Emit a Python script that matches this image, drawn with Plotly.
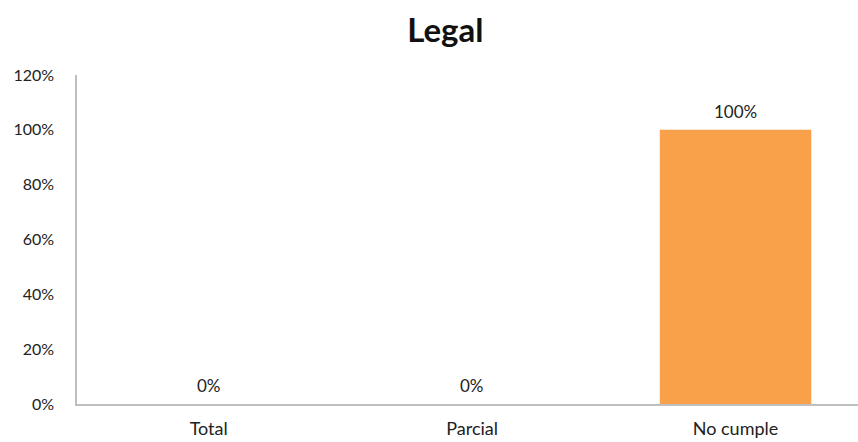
import plotly.graph_objects as go

categories = ["Total", "Parcial", "No cumple"]
values = [0, 0, 100]
y_ticks = [0, 20, 40, 60, 80, 100, 120]
y_tick_labels = ["0%", "20%", "40%", "60%", "80%", "100%", "120%"]

FONT = "Lato, Open Sans, sans-serif"
TEXT_COLOR = "#222222"

fig = go.Figure(
    go.Bar(
        x=categories,
        y=values,
        marker=dict(color="#F9A04A", line=dict(width=0)),
        width=0.575,
        hoverinfo="x+y",
    )
)

# value labels sitting just above each bar
for cat, val in zip(categories, values):
    fig.add_annotation(
        x=cat,
        y=val,
        text=f"{val}%",
        showarrow=False,
        xanchor="center",
        yanchor="bottom",
        yshift=6,
        font=dict(family=FONT, size=17, color=TEXT_COLOR),
    )

fig.update_layout(
    width=858,
    height=442,
    margin=dict(l=77, r=0, t=75, b=38),
    paper_bgcolor="white",
    plot_bgcolor="white",
    showlegend=False,
    title=dict(
        text="<b>Legal</b>",
        x=0.519,
        xanchor="center",
        y=0.93,
        yanchor="middle",
        font=dict(family=FONT, size=33, color="#111111"),
    ),
    xaxis=dict(
        type="category",
        range=[-0.5, 2.465],
        showgrid=False,
        showline=True,
        linecolor="#BFBFBF",
        linewidth=1.5,
        ticks="",
        tickfont=dict(family=FONT, size=18, color=TEXT_COLOR),
        ticklabelstandoff=8,
    ),
    yaxis=dict(
        range=[0, 120],
        tickvals=y_ticks,
        ticktext=y_tick_labels,
        showgrid=False,
        zeroline=False,
        showline=True,
        linecolor="#BFBFBF",
        linewidth=1.5,
        ticks="",
        ticklabelstandoff=18,
        tickfont=dict(family=FONT, size=16, color=TEXT_COLOR),
    ),
)

fig.write_html("out.html")
